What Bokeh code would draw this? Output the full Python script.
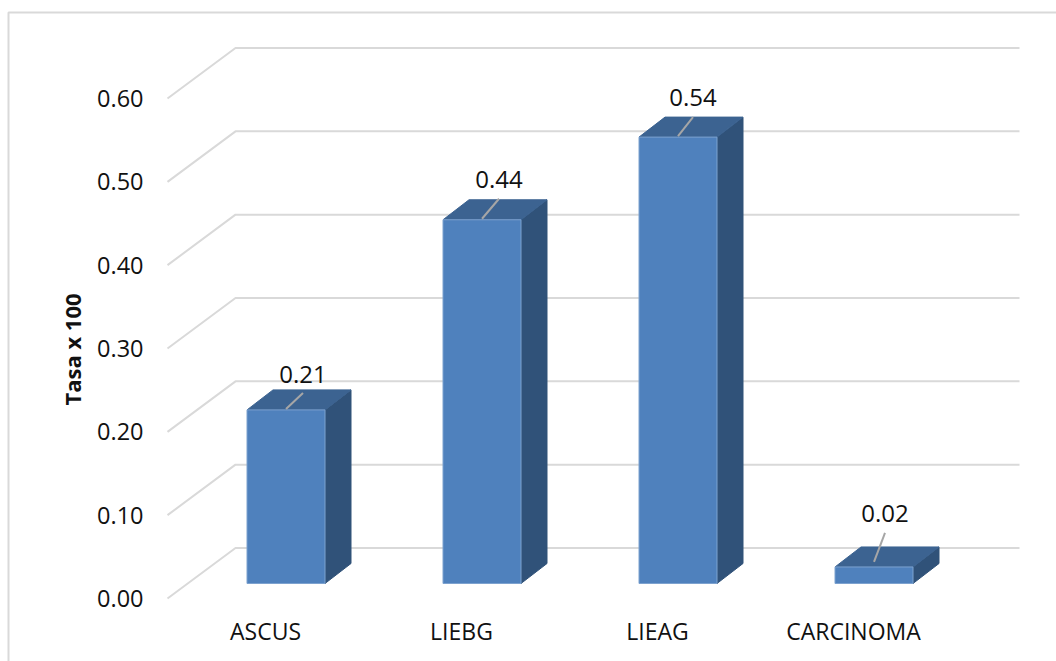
import math

from bokeh.core.properties import value
from bokeh.embed import file_html
from bokeh.models import ColumnDataSource, FixedTicker, LinearAxis, NumeralTickFormatter, Range1d
from bokeh.plotting import figure
from bokeh.resources import INLINE

# Chart data
categories = ["ASCUS", "LIEBG", "LIEAG", "CARCINOMA"]
rates = [0.21, 0.44, 0.54, 0.02]
value_ticks = [0.0, 0.1, 0.2, 0.3, 0.4, 0.5, 0.6]
axis_title = "Tasa x 100"

FONT = "Open Sans"
INK = "#111111"
GRID = "#d9d9d9"
FRONT, TOP, SIDE = "#4f81bd", "#3c6391", "#305279"

# Drawing geometry, in screen pixels
W, H = 1056, 661
PLANE_LEFT = 167      # left end of the front plane
BAND = 196            # width of one category
PX_PER_UNIT = 500 / 0.6
Y_ZERO = 598          # screen row of value 0 on the front plane
BAR_LEFT, BAR_W = 79.5, 78
FLOOR_DX, FLOOR_DY = 68, 50.5
BAR_DX, BAR_DY = 26, 20
BAR_BASE_LIFT = 15
BAR_SCALE = 0.992


def dx(px):
    return px / BAND


def dy(px):
    return px / PX_PER_UNIT


def col(px):
    return (px - PLANE_LEFT) / BAND


def row(px):
    return (Y_ZERO - px) / PX_PER_UNIT


p = figure(
    width=W, height=H, output_backend="svg", toolbar_location=None,
    x_range=Range1d(col(0), col(W)), y_range=Range1d(row(H), row(0)),
    min_border=0, x_axis_location=None, y_axis_location=None,
    outline_line_color=None, background_fill_color="white", border_fill_color="white",
)
p.xgrid.visible = False
p.ygrid.visible = False

# Outer chart border: only the top and left edges fall on the page
p.line([col(8), col(8), col(W)], [row(H), row(12), row(12)], line_color=GRID, line_width=2)

# Value axis on the front plane
yaxis = LinearAxis(
    fixed_location=0,
    ticker=FixedTicker(ticks=value_ticks),
    formatter=NumeralTickFormatter(format="0.00"),
    axis_line_color=None, major_tick_line_color=None, minor_tick_line_color=None,
    major_tick_out=0, major_tick_in=0,
    major_label_standoff=24,
    major_label_text_font=FONT, major_label_text_font_size="23.5px",
    major_label_text_color=INK,
)
p.add_layout(yaxis, "left")

# Category axis
xaxis = LinearAxis(
    fixed_location=row(614),
    ticker=FixedTicker(ticks=[i + 0.5 for i in range(len(categories))]),
    major_label_overrides={i + 0.5: c for i, c in enumerate(categories)},
    axis_line_color=None, major_tick_line_color=None, minor_tick_line_color=None,
    major_tick_out=0, major_tick_in=0,
    major_label_standoff=0,
    major_label_text_font=FONT, major_label_text_font_size="23px",
    major_label_text_color=INK,
)
p.add_layout(xaxis, "below")

# Rotated title of the value axis
p.text(
    [col(71.5)], [row(349)], text=[axis_title], angle=math.pi / 2,
    text_align="center", text_baseline="middle",
    text_font=value(FONT), text_font_size="22px", text_font_style="bold", text_color=INK,
)

# Floor and back wall gridlines in oblique projection
for v in value_ticks:
    p.line(
        [0, dx(FLOOR_DX), col(1019)],
        [v, v + dy(FLOOR_DY), v + dy(FLOOR_DY)],
        line_color=GRID, line_width=2,
    )

# Three visible faces of each bar
for i, rate in enumerate(rates):
    x0 = i + dx(BAR_LEFT)
    x1 = x0 + dx(BAR_W)
    bx, by = dx(BAR_DX), dy(BAR_DY)
    y0 = dy(BAR_BASE_LIFT)
    y1 = y0 + rate * BAR_SCALE
    p.patch([x1, x1 + bx, x1 + bx, x1], [y0, y0 + by, y1 + by, y1], fill_color=SIDE, line_color=SIDE, line_width=1)
    p.patch([x0, x0 + bx, x1 + bx, x1], [y1, y1 + by, y1 + by, y1], fill_color=TOP, line_color=TOP, line_width=1)
    p.patch([x0, x1, x1, x0], [y0, y0, y1, y1], fill_color=FRONT, line_color="#7da2cf", line_width=1)

# Value labels with leader lines, nudged per bar:
# (label shift right, leader start above the bar, leader rise, label height above the bar)
label_shift = [(17, 1, 16, 35.5), (17, 1, 20, 40), (15, 1, 19, 40), (11, 5, 29, 53)]
xs, ys, texts = [], [], []
for i, (rate, (sx, start, rise, ty)) in enumerate(zip(rates, label_shift)):
    cx = i + dx(BAR_LEFT + BAR_W / 2)
    top = dy(BAR_BASE_LIFT) + rate * BAR_SCALE
    p.line([cx, cx + dx(sx)], [top + dy(start), top + dy(start + rise)], line_color="#a6a6a6", line_width=2)
    xs.append(cx + dx(sx))
    ys.append(top + dy(ty))
    texts.append(f"{rate:.2f}")
labels = ColumnDataSource(dict(x=xs, y=ys, text=texts))
p.text(
    "x", "y", text="text", source=labels, text_align="center", text_baseline="middle",
    text_font=value(FONT), text_font_size="24px", text_color=INK,
)

open("out.html", "w").write(file_html(p, INLINE))
